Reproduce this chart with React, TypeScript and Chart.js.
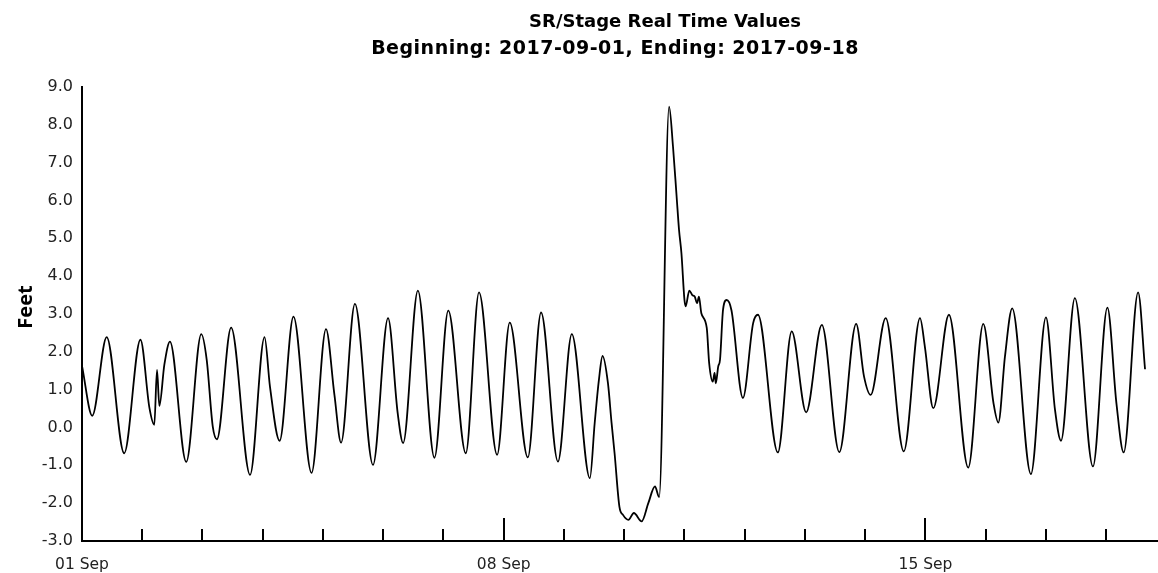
import React, { useEffect, useRef } from 'react';
import { Chart, registerables } from 'chart.js';

Chart.register(...registerables);

// Days elapsed since 2017-09-01 00:00
const days = [
  0.0, 0.17, 0.41, 0.7, 0.97, 1.12, 1.2, 1.245, 1.284, 1.367, 1.46, 1.73, 1.98, 2.07, 2.17, 2.24,
  2.475, 2.79, 3.03, 3.12, 3.28, 3.51, 3.81, 4.05, 4.19, 4.3, 4.53, 4.83, 5.08, 5.24, 5.33, 5.575,
  5.85, 6.08, 6.37, 6.59, 6.89, 7.1, 7.4, 7.62, 7.9, 8.13, 8.43, 8.51, 8.58, 8.64, 8.73, 8.79,
  8.84, 8.92, 8.98, 9.07, 9.16, 9.29, 9.4, 9.51, 9.58, 9.745, 9.81, 9.87, 9.91, 9.95, 10.0, 10.02,
  10.08, 10.13, 10.17, 10.21, 10.24, 10.28, 10.37, 10.41, 10.47, 10.5, 10.52, 10.56, 10.59, 10.64,
  10.7, 10.78, 10.97, 11.14, 11.22, 11.55, 11.78, 12.02, 12.28, 12.57, 12.85, 12.98, 13.09, 13.34,
  13.64, 13.91, 13.99, 14.13, 14.39, 14.71, 14.96, 15.13, 15.21, 15.32, 15.44, 15.75, 16.0, 16.15,
  16.25, 16.48, 16.78, 17.02, 17.17, 17.29, 17.53, 17.645,
];

// Stage in feet
const stage = [
  1.63, 0.31, 2.39, -0.68, 2.32, 0.51, 0.07, 1.52, 0.57, 1.66, 2.27, -0.91, 2.47, 1.79, 0.03, -0.31,
  2.64, -1.25, 2.39, 1.08, -0.35, 2.93, -1.2, 2.6, 0.86, -0.4, 3.27, -0.99, 2.89, 0.38, -0.41, 3.62,
  -0.8, 3.09, -0.68, 3.57, -0.72, 2.77, -0.79, 3.04, -0.9, 2.47, -1.34, 0.12, 1.26, 1.89, 1.17, 0.12,
  -0.68, -2.09, -2.31, -2.44, -2.26, -2.48, -2.0, -1.56, -1.84, 8.48, 7.42, 6.1, 5.22, 4.6, 3.37, 3.2,
  3.62, 3.5, 3.46, 3.29, 3.46, 3.02, 2.63, 1.7, 1.21, 1.44, 1.17, 1.61, 1.79, 3.11,
  3.37, 3.1, 0.78, 2.76, 2.98, -0.66, 2.54, 0.4, 2.71, -0.65, 2.74, 1.35, 0.86, 2.89,
  -0.63, 2.89, 2.14, 0.51, 2.98, -1.06, 2.74, 0.64, 0.13, 1.88, 3.15, -1.23, 2.91, 0.47,
  -0.35, 3.42, -1.03, 3.17, 0.64, -0.66, 3.57, 1.54,
];

const dayTicks = [0, 1, 2, 3, 4, 5, 6, 7, 8, 9, 10, 11, 12, 13, 14, 15, 16, 17];
const weekTickDays = [0, 7, 14];
const weekTickLabels = ['01 Sep', '08 Sep', '15 Sep'];

const titleText = 'SR/Stage Real Time Values';
const subtitleText = 'Beginning: 2017-09-01, Ending: 2017-09-18';
const yAxisTitle = 'Feet';

const X_MAX = 17.86;
const TICK_FONT = '"DejaVu Sans", sans-serif';
const TITLE_FONT = '"DejaVu Sans", sans-serif';
const AXIS_TITLE_FONT = '"Open Sans", "Noto Sans", sans-serif';

const tickMarksPlugin = {
  id: 'tickMarks',
  afterDraw(chart: any) {
    const xs = chart.scales.x;
    const ctx = chart.ctx;
    const bottom = chart.chartArea.bottom;
    ctx.save();
    ctx.strokeStyle = '#000';
    ctx.lineWidth = 2;
    xs.ticks.forEach((t: any) => {
      if (t.value === 0) return;
      const px = Math.round(xs.getPixelForValue(t.value));
      const len = weekTickDays.includes(t.value) ? 23 : 12;
      ctx.beginPath();
      ctx.moveTo(px, bottom);
      ctx.lineTo(px, bottom - len);
      ctx.stroke();
    });
    ctx.restore();
  },
};

const titlesPlugin = {
  id: 'titles',
  afterDraw(chart: any) {
    const ctx = chart.ctx;
    ctx.save();
    ctx.fillStyle = '#000';
    ctx.textAlign = 'center';
    ctx.textBaseline = 'alphabetic';
    ctx.font = `bold 18px ${TITLE_FONT}`;
    ctx.fillText(titleText, 665, 27);
    ctx.font = `bold 19px ${TITLE_FONT}`;
    (ctx as any).letterSpacing = '0.5px';
    ctx.fillText(subtitleText, 615, 54);
    (ctx as any).letterSpacing = '0px';
    ctx.translate(26, 307);
    ctx.rotate(-Math.PI / 2);
    ctx.textBaseline = 'middle';
    ctx.font = `bold 20px ${AXIS_TITLE_FONT}`;
    ctx.fillText(yAxisTitle, 0, 0);
    ctx.restore();
  },
};

export default function App() {
  const canvasRef = useRef<HTMLCanvasElement | null>(null);

  useEffect(() => {
    if (!canvasRef.current) return;
    const chart = new Chart(canvasRef.current, {
      type: 'line',
      data: {
        datasets: [
          {
            label: 'Stage',
            data: days.map((d, i) => ({ x: d, y: stage[i] })),
            borderColor: '#000',
            borderWidth: 1.8,
            pointRadius: 0,
            fill: false,
            cubicInterpolationMode: 'monotone',
          },
        ],
      },
      options: {
        animation: false,
        responsive: true,
        maintainAspectRatio: false,
        layout: { padding: { top: 87, right: 0, bottom: 0, left: 0 } },
        plugins: {
          legend: { display: false },
          tooltip: { enabled: false },
          title: { display: false },
        },
        scales: {
          x: {
            type: 'linear',
            min: 0,
            max: X_MAX,
            afterBuildTicks: (scale: any) => {
              scale.ticks = dayTicks.map((v) => ({ value: v }));
            },
            afterFit: (scale: any) => {
              scale.height = 32;
            },
            ticks: {
              autoSkip: false,
              maxRotation: 0,
              padding: 15,
              color: '#222',
              font: { family: TICK_FONT, size: 15.5 },
              callback: (v: any) => {
                const idx = weekTickDays.indexOf(Number(v));
                return idx >= 0 ? weekTickLabels[idx] : '';
              },
            },
            grid: { display: false, drawTicks: false },
            border: { display: true, color: '#000', width: 2 },
          },
          y: {
            min: -3,
            max: 9,
            afterFit: (scale: any) => {
              scale.width = 82;
            },
            ticks: {
              stepSize: 1,
              padding: 9,
              color: '#222',
              font: { family: TICK_FONT, size: 16 },
              callback: (v: any) => Number(v).toFixed(1),
            },
            grid: { display: false, drawTicks: false },
            border: { display: true, color: '#000', width: 2 },
          },
        },
      },
      plugins: [tickMarksPlugin, titlesPlugin],
    } as any);
    return () => chart.destroy();
  }, []);

  return (
    <div style={{ position: 'fixed', left: 0, top: 0, width: 1158, height: 573, background: '#fff' }}>
      <canvas ref={canvasRef} />
    </div>
  );
}
